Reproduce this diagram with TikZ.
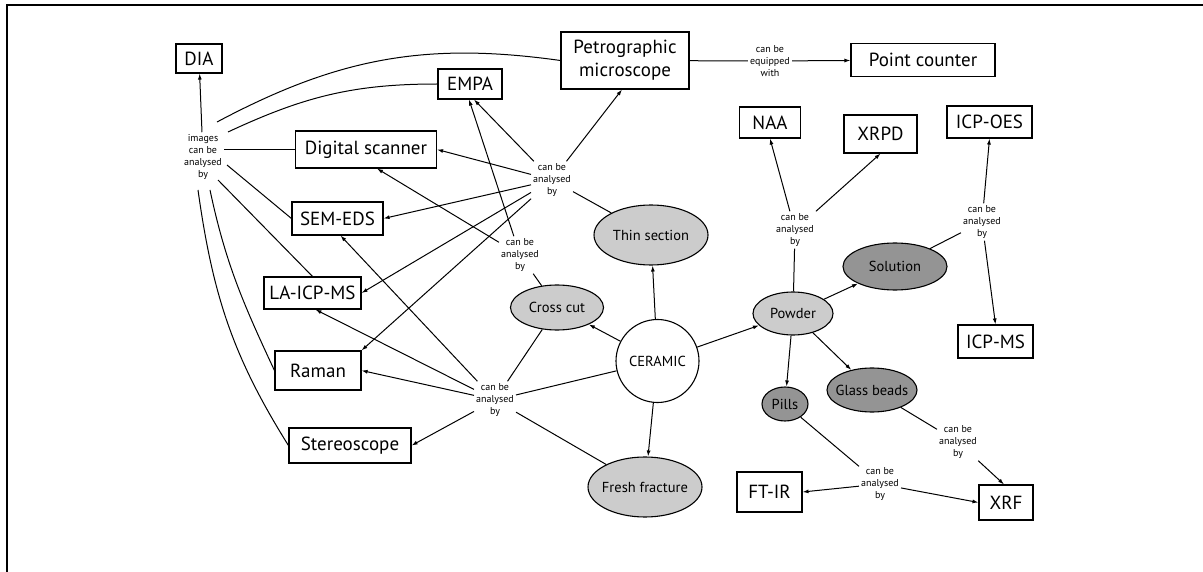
\documentclass[tikz,border=0pt]{standalone}
\usepackage{fontspec}
\setmainfont{PT Sans}
\usetikzlibrary{shapes.geometric,arrows.meta,calc}
\newcommand\ctrtext[1]{\makebox[0pt]{#1}}
\begin{document}
\begin{tikzpicture}[x=1pt,y=1pt,
  box/.style={draw, line width=1.1pt, inner sep=0pt, font=\fontsize{19}{23}\selectfont, align=center},
  ell/.style={draw, line width=1.1pt, ellipse, inner sep=0pt, font=\fontsize{14.5}{16}\selectfont},
  lite/.style={ell, fill=black!20},
  dark/.style={ell, fill=black!42},
  lbl/.style={font=\fontsize{10}{12}\selectfont, align=center, inner sep=2pt},
  con/.style={line width=1pt},
  arr/.style={con, -{Latex[length=6pt,width=4pt]}},
]
\useasboundingbox (0,0) rectangle (1203,-572);
\draw[line width=2pt] (7,-572) -- (7,-5) -- (1203,-5);

% boxes
\node[box, minimum width=46, minimum height=29] (DIA) at (199,-58.5) {DIA};
\node[box, minimum width=128, minimum height=57] (PM) at (625,-60.5) {Petrographic\\microscope};
\node[box, minimum width=144, minimum height=33] (PC) at (923,-60) {Point counter};
\node[box, minimum width=64, minimum height=30] (EMPA) at (470,-84) {EMPA};
\node[box, minimum width=141, minimum height=37] (DS) at (366,-149.5) {Digital scanner};
\node[box, minimum width=61, minimum height=31] (NAA) at (770,-122.5) {NAA};
\node[box, minimum width=73, minimum height=38] (XRPD) at (880.5,-134) {XRPD};
\node[box, minimum width=85, minimum height=32] (OES) at (989.5,-122) {ICP-OES};
\node[box, minimum width=91, minimum height=33] (SEM) at (337.5,-218.5) {SEM-EDS};
\node[box, minimum width=97, minimum height=32] (LA) at (312.5,-293) {LA-ICP-MS};
\node[box, minimum width=86, minimum height=39] (RAM) at (318,-370.5) {Raman};
\node[box, minimum width=122, minimum height=35] (STE) at (350,-445.5) {Stereoscope};
\node[box, minimum width=75, minimum height=33] (ICPMS) at (995.5,-341.5) {ICP-MS};
\node[box, minimum width=65, minimum height=40] (FTIR) at (769.5,-492) {FT-IR};
\node[box, minimum width=54, minimum height=35] (XRF) at (1006,-502.5) {XRF};

% ellipses
\node[lite, minimum width=114, minimum height=60] (TS) at (651,-235) {\ctrtext{Thin section}};
\node[lite, minimum width=93, minimum height=45] (CC) at (557,-307.5) {\ctrtext{Cross cut}};
\node[draw, circle, line width=1.1pt, minimum size=83, inner sep=0pt, font=\fontsize{14.5}{16}\selectfont] (CER) at (657.5,-361) {\ctrtext{CERAMIC}};
\node[lite, minimum width=80, minimum height=43] (POW) at (793,-313.5) {\ctrtext{Powder}};
\node[dark, minimum width=104, minimum height=47] (SOL) at (895,-266.5) {\ctrtext{Solution}};
\node[dark, minimum width=90, minimum height=44] (GB) at (872,-390) {\ctrtext{Glass beads}};
\node[dark, minimum width=46, minimum height=34] (PIL) at (785,-404) {\ctrtext{Pills}};
\node[lite, minimum width=114, minimum height=60] (FF) at (645,-487) {\ctrtext{Fresh fracture}};

% labels
\node[lbl] (I) at (203,-157) {images\\can be\\analysed\\by};
\node[lbl] (E) at (770,-61) {can be\\equipped\\with};
\node[lbl] (U) at (552,-180) {can be\\analysed\\by};
\node[lbl] (M) at (520,-255) {can be\\analysed\\by};
\node[lbl] (L) at (495,-400) {can be\\analysed\\by};
\node[lbl] (P) at (795,-230) {can be\\analysed\\by};
\node[lbl] (S) at (982,-222) {can be\\analysed\\by};
\node[lbl] (G) at (958,-442) {can be\\analysed\\by};
\node[lbl] (Q) at (880,-484) {can be\\analysed\\by};

% images can be analysed by
\draw[arr] (I) -- (DIA);
\draw[con] ($(I)+(14,35)$) to[out=28,in=172] (PM.west);
\draw[con] ($(I)+(25,25)$) to[out=25,in=180] (EMPA.west);
\draw[con] (I.east |- DS.west) -- (DS.west);
\draw[con] ($(I)+(24,-8)$) -- (SEM.west);
\draw[con] ($(I)+(15,-23)$) -- (LA.north);
\draw[con] ($(I)+(7,-33)$) to[out=-78,in=115] (RAM.west);
\draw[con] ($(I)+(-5,-33)$) to[out=-82,in=122] (STE.west);

% petrographic microscope
\draw[con] (PM) -- (E);
\draw[arr] (E) -- (PC);

% thin section
\draw[con] (TS) -- (U);
\draw[arr] (U) -- ([xshift=-3]PM.south);
\draw[arr] (U) -- ([xshift=4]EMPA.south);
\draw[arr] (U) -- (DS.east);
\draw[arr] (U) -- (SEM.east);
\draw[arr] (U) -- (LA.east);
\draw[arr] (U) -- (RAM.north east);

% cross cut
\draw[con] (CC) -- (M);
\draw[arr] (M) -- ([xshift=-1]EMPA.south);
\draw[arr] (M) -- ([xshift=11]DS.south);

% lower group
\draw[con] (CC) -- (L);
\draw[con] (CER) -- (L);
\draw[con] (FF) -- (L);
\draw[arr] (L) -- ([xshift=3]SEM.south);
\draw[arr] (L) -- ([xshift=3]LA.south);
\draw[arr] (L) -- (RAM.east);
\draw[arr] (L) -- (STE.east);

% ceramic
\draw[arr] (CER) -- (TS);
\draw[arr] (CER) -- (CC);
\draw[arr] (CER) -- (POW);
\draw[arr] (CER) -- (FF);

% powder
\draw[con] (POW) -- (P);
\draw[arr] (P) -- (NAA.south);
\draw[arr] (P) -- (XRPD.south);
\draw[arr] (POW) -- (SOL);
\draw[arr] (POW) -- (PIL);
\draw[arr] (POW) -- (GB);

% solution
\draw[con] (SOL) -- (S);
\draw[arr] (S) -- (OES.south);
\draw[arr] (S) -- (ICPMS.north);

% glass beads and pills
\draw[con] (GB) -- (G);
\draw[arr] (G) -- ([xshift=-2]XRF.north);
\draw[con] (PIL) -- (Q);
\draw[arr] (Q) -- (FTIR.east);
\draw[arr] (Q) -- (XRF.west);
\end{tikzpicture}
\end{document}
